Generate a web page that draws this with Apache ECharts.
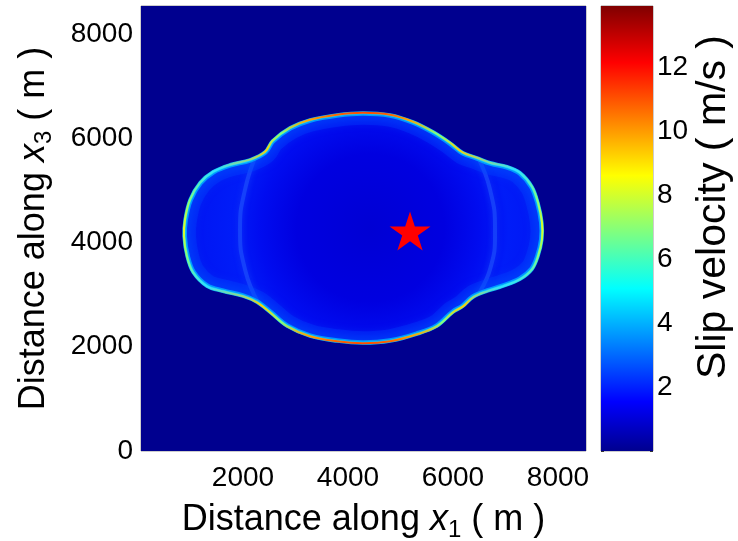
<!DOCTYPE html>
<html><head><meta charset="utf-8">
<script src="https://cdn.jsdelivr.net/npm/echarts@6/dist/echarts.min.js"></script>
<style>html,body{margin:0;padding:0;background:#fff}#c{width:738px;height:541px}</style>
</head><body><div id="c"></div>
<script>
// ---- data ----
const xTicks = [2000, 4000, 6000, 8000];
const yTicks = [0, 2000, 4000, 6000, 8000];
const slipTicks = [2, 4, 6, 8, 10, 12];
const xRange = [57, 8533];
const yRange = [0, 8536];
const slipRange = [0, 13.9];
// rupture front outline (m)
const frontX = [4286,4800,5238,5619,5943,6191,6457,6705,7029,7276,7505,7619,7695,7695,7619,7505,7276,6952,6648,6381,6191,6000,5695,5314,4800,4286,3790,3276,2838,2514,2267,2000,1619,1314,1048,933,876,895,990,1181,1429,1752,2133,2420,2560,2895,3276,3790];
const frontY = [6488,6450,6316,6125,5914,5723,5627,5531,5455,5340,5072,4766,4383,4058,3732,3483,3292,3158,3062,2948,2775,2660,2393,2239,2105,2067,2105,2201,2393,2660,2852,2967,3062,3158,3426,3732,4115,4440,4823,5149,5359,5493,5589,5740,5950,6201,6354,6450];
// inner lobe-junction arcs (m)
const leftArcX = [2267, 2038, 1943, 2038, 2286];
const leftArcY = [5723, 5015, 4249, 3483, 2852];
const rightArcX = [6476, 6705, 6800, 6705, 6419];
const rightArcY = [5627, 5015, 4249, 3483, 2909];
// hypocenter (m)
const hypoX = [5181];
const hypoY = [4220];

const tickFont = "'Liberation Sans', Arial, sans-serif";
const titleFont = "'Liberation Sans', Arial, sans-serif";
const bgColor = '#00008F';
const jet = [
  {offset: 0, color: '#00008F'},
  {offset: 0.111, color: '#0000FF'},
  {offset: 0.365, color: '#00FFFF'},
  {offset: 0.619, color: '#FFFF00'},
  {offset: 0.873, color: '#FF0000'},
  {offset: 1, color: '#800000'}
];
const starPath = 'path://M0,-50L11.17,-15.37L47.55,-15.45L18.07,5.87L29.39,40.45L0,19L-29.39,40.45L-18.07,5.87L-47.55,-15.45L-11.17,-15.37Z';

const chart = echarts.init(document.getElementById('c'));
const titleRich = {
  a: {fontSize: 36, fontFamily: titleFont, color: '#000', lineHeight: 44},
  i: {fontSize: 36, fontFamily: titleFont, fontStyle: 'italic', color: '#000', lineHeight: 44},
  s: {fontSize: 24, fontFamily: titleFont, color: '#000', lineHeight: 24, verticalAlign: 'bottom'}
};
const fmt = v => String(v);

chart.setOption({
  animation: false,
  grid: [
    {left: 141, top: 6, width: 445, height: 445, outerBoundsMode: 'none', containLabel: false,
     show: true, backgroundColor: bgColor, borderColor: '#9a9a9a', borderWidth: 1},
    {left: 601, top: 6, width: 52, height: 445, outerBoundsMode: 'none', containLabel: false,
     show: true, backgroundColor: 'transparent', borderColor: '#9a9a9a', borderWidth: 1}
  ],
  xAxis: [
    {type: 'value', gridIndex: 0, min: xRange[0], max: xRange[1],
     axisLine: {show: false}, axisTick: {show: false}, splitLine: {show: false},
     axisLabel: {customValues: xTicks, formatter: fmt, margin: 13, fontSize: 28, fontFamily: tickFont, color: '#000'},
     name: '{a|Distance along }{i|x}{s|1}{a| ( m )}', nameLocation: 'middle', nameGap: 47,
     nameTextStyle: {rich: titleRich}},
    {type: 'category', gridIndex: 1, data: [''], show: false}
  ],
  yAxis: [
    {type: 'value', gridIndex: 0, min: yRange[0], max: yRange[1],
     axisLine: {show: false}, axisTick: {show: false}, splitLine: {show: false},
     axisLabel: {customValues: yTicks, formatter: fmt, margin: 8, fontSize: 28, fontFamily: tickFont, color: '#000'},
     name: '{a|Distance along }{i|x}{s|3}{a| ( m )}', nameLocation: 'middle', nameGap: 85,
     nameTextStyle: {rich: titleRich}},
    {type: 'value', gridIndex: 1, position: 'right', min: slipRange[0], max: slipRange[1], interval: 2,
     axisLine: {show: false}, splitLine: {show: false},
     axisTick: {show: true, inside: true, length: 3, lineStyle: {color: '#333'}},
     axisLabel: {margin: 4, fontSize: 28, fontFamily: tickFont, color: '#000',
       formatter: v => slipTicks.indexOf(v) >= 0 ? String(v) : ''}},
    {type: 'value', gridIndex: 1, position: 'left', min: slipRange[0], max: slipRange[1], interval: 2,
     axisLine: {show: false}, splitLine: {show: false}, axisLabel: {show: false},
     axisTick: {show: true, inside: true, length: 3, lineStyle: {color: '#333'}}}
  ],
  graphic: [
    {type: 'text', x: 714, y: 207, rotation: Math.PI / 2,
     style: {text: 'Slip velocity ( m/s )', font: "41px 'Liberation Sans', Arial, sans-serif", fill: '#000', align: 'center', verticalAlign: 'middle'}}
  ],
  series: [
    {type: 'custom', xAxisIndex: 0, yAxisIndex: 0, data: [[frontX[0], frontY[0]]],
     encode: {x: 0, y: 1}, silent: true,
     renderItem: function (params, api) {
       if (params.dataIndex !== 0) return;
       const cs = params.coordSys;
       const pts = frontX.map((x, i) => api.coord([x, frontY[i]]));
       const la = leftArcX.map((x, i) => api.coord([x, leftArcY[i]]));
       const ra = rightArcX.map((x, i) => api.coord([x, rightArcY[i]]));
       // mask: plot rectangle with the rupture area cut out (reverse winding)
       const x0 = cs.x, y0 = cs.y, x1 = cs.x + cs.width, y1 = cs.y + cs.height;
       let d = 'M' + x0 + ' ' + y0 + 'L' + x1 + ' ' + y0 + 'L' + x1 + ' ' + y1 + 'L' + x0 + ' ' + y1 + 'Z';
       const rev = pts.slice().reverse();
       d += 'M' + rev[0][0] + ' ' + rev[0][1];
       for (let i = 1; i < rev.length; i++) d += 'L' + rev[i][0] + ' ' + rev[i][1];
       d += 'Z';
       const fill = new echarts.graphic.RadialGradient(0.52, 0.5, 0.8, [
         {offset: 0, color: '#0000D4'},
         {offset: 0.4, color: '#0000E0'},
         {offset: 0.6, color: '#000CF0'},
         {offset: 0.75, color: '#001CF8'},
         {offset: 1, color: '#0014F2'}
       ]);
       const edge = new echarts.graphic.LinearGradient(0, 0, 0, 1, [
         {offset: 0, color: '#FF3000'},
         {offset: 0.04, color: '#FFA000'},
         {offset: 0.1, color: '#80FF80'},
         {offset: 0.17, color: '#FFD000'},
         {offset: 0.25, color: '#30E0FF'},
         {offset: 0.38, color: '#80FF80'},
         {offset: 0.5, color: '#E0FF20'},
         {offset: 0.62, color: '#80FF80'},
         {offset: 0.75, color: '#30E0FF'},
         {offset: 0.83, color: '#FFD000'},
         {offset: 0.9, color: '#80FF80'},
         {offset: 0.96, color: '#FFA000'},
         {offset: 1, color: '#FF3000'}
       ]);
       return {type: 'group', children: [
         {type: 'polygon', shape: {points: pts, smooth: 0.35}, style: {fill: fill}},
         {type: 'polyline', shape: {points: la, smooth: 0.5},
          style: {fill: null, stroke: 'rgba(40,100,255,0.45)', lineWidth: 4, shadowBlur: 6, shadowColor: 'rgba(40,100,255,0.8)'}},
         {type: 'polyline', shape: {points: ra, smooth: 0.5},
          style: {fill: null, stroke: 'rgba(40,100,255,0.45)', lineWidth: 4, shadowBlur: 6, shadowColor: 'rgba(40,100,255,0.8)'}},
         {type: 'polygon', shape: {points: pts, smooth: 0.35},
          style: {fill: null, stroke: 'rgba(0,70,255,0.3)', lineWidth: 24}},
         {type: 'polygon', shape: {points: pts, smooth: 0.35},
          style: {fill: null, stroke: 'rgba(0,170,255,0.85)', lineWidth: 6, shadowBlur: 14, shadowColor: 'rgba(0,110,255,1)'}},
         {type: 'path', shape: {pathData: d}, style: {fill: bgColor}},
         {type: 'polygon', shape: {points: pts, smooth: 0.35},
          style: {fill: null, stroke: 'rgba(20,210,255,0.9)', lineWidth: 3.2}},
         {type: 'polygon', shape: {points: pts, smooth: 0.35},
          style: {fill: null, stroke: edge, lineWidth: 2.1}}
       ]};
     }},
    {type: 'scatter', xAxisIndex: 0, yAxisIndex: 0, data: hypoX.map((x, i) => [x, hypoY[i]]),
     symbol: starPath, symbolSize: [41, 39], itemStyle: {color: '#FF0000', opacity: 1}, silent: true, z: 5},
    {type: 'bar', xAxisIndex: 1, yAxisIndex: 1, data: [slipRange[1]], barWidth: '100%', silent: true,
     itemStyle: {color: new echarts.graphic.LinearGradient(0, 1, 0, 0, jet)}}
  ]
});
</script>
</body></html>
